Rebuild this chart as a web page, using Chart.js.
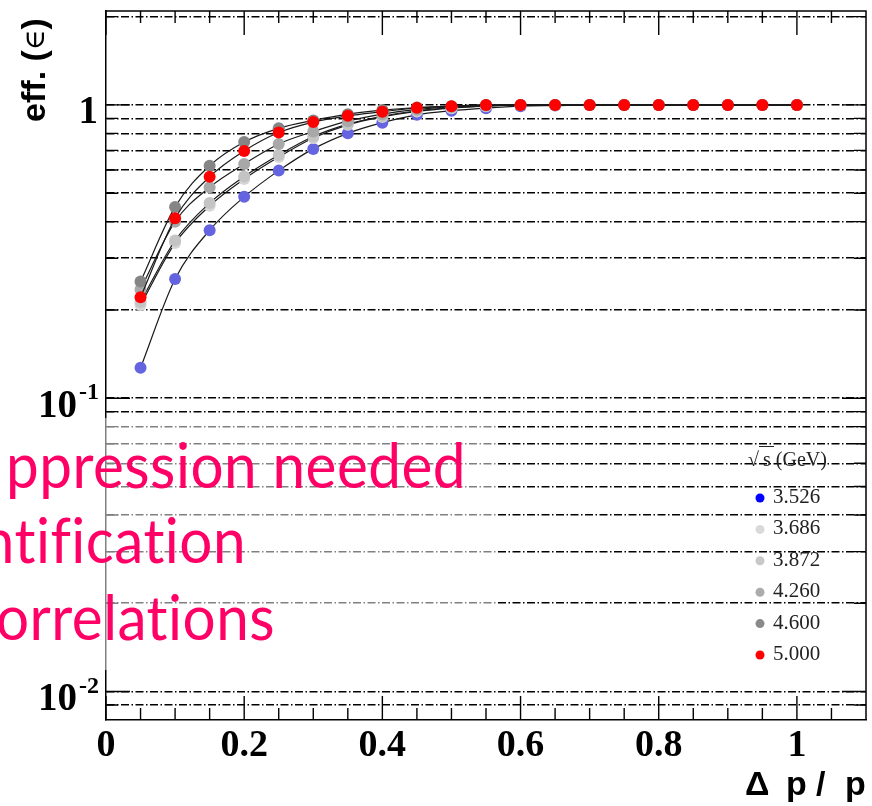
<!DOCTYPE html>
<html>
<head>
<meta charset="utf-8">
<script src="https://cdn.jsdelivr.net/npm/chart.js@4.4.1/dist/chart.umd.min.js"></script>
<style>
body { margin: 0; background: #fff; }
</style>
</head>
<body>
<canvas id="effChart" width="872" height="806"></canvas>
<script>
// delta p / p values of every point
const dpOverP = [0.05, 0.1, 0.15, 0.2, 0.25, 0.3, 0.35, 0.4, 0.45, 0.5,
                 0.55, 0.6, 0.65, 0.7, 0.75, 0.8, 0.85, 0.9, 0.95, 1.0];

// sqrt(s) in GeV
const seriesLabels = ['3.526', '3.686', '3.872', '4.260', '4.600', '5.000'];

const eff3526 = [0.127, 0.255, 0.374, 0.486, 0.597, 0.708, 0.80, 0.87, 0.925, 0.955,
                 0.975, 0.99, 0.995, 1, 1, 1, 1, 1, 1, 1];
const eff3686 = [0.208, 0.338, 0.453, 0.559, 0.664, 0.771, 0.855, 0.91, 0.95, 0.975,
                 0.99, 1, 1, 1, 1, 1, 1, 1, 1, 1];
const eff3872 = [0.213, 0.345, 0.463, 0.57, 0.675, 0.78, 0.86, 0.915, 0.955, 0.978,
                 0.992, 1, 1, 1, 1, 1, 1, 1, 1, 1];
const eff4260 = [0.235, 0.40, 0.524, 0.629, 0.736, 0.811, 0.88, 0.93, 0.965, 0.985,
                 0.995, 1, 1, 1, 1, 1, 1, 1, 1, 1];
const eff4600 = [0.25, 0.449, 0.62, 0.747, 0.832, 0.885, 0.93, 0.96, 0.98, 0.99,
                 1, 1, 1, 1, 1, 1, 1, 1, 1, 1];
const eff5000 = [0.221, 0.411, 0.569, 0.697, 0.805, 0.874, 0.918, 0.948, 0.977, 0.99,
                 1, 1, 1, 1, 1, 1, 1, 1, 1, 1];

const allSeries = [eff3526, eff3686, eff3872, eff4260, eff4600, eff5000];
const pointColors  = ['#6464e1', '#d6d6d6', '#c4c4c4', '#a8a8a8', '#858585', '#ff0000'];
const legendColors = ['#0000ff', '#d9d9d9', '#c8c8c8', '#acacac', '#8a8a8a', '#ff0000'];

// axis ticks
const xTickVals = [0, 0.2, 0.4, 0.6, 0.8, 1.0];
const xTickLabels = ['0', '0.2', '0.4', '0.6', '0.8', '1'];
const xMinorTicks = [0.05, 0.1, 0.15, 0.25, 0.3, 0.35, 0.45, 0.5, 0.55, 0.65, 0.7, 0.75,
                     0.85, 0.9, 0.95, 1.05];
const yGridVals = [0.009, 0.01, 0.02, 0.03, 0.04, 0.05, 0.06, 0.07, 0.08, 0.09,
                   0.1, 0.2, 0.3, 0.4, 0.5, 0.6, 0.7, 0.8, 0.9, 1, 2];
const yLabelVals = [1, 0.1, 0.01];
const yLabelParts = [['1', ''], ['10', '-1'], ['10', '-2']];

// text pasted over the plot on the slide
const slideLines = ['ppression needed', 'ntification', 'orrelations'];

const framePlugin = {
    id: 'frame',
    beforeDatasetsDraw(chart) {
        const {ctx, chartArea: a, scales: {x, y}} = chart;
        ctx.save();
        ctx.strokeStyle = '#000';
        ctx.lineWidth = 1.5;
        ctx.beginPath();
        ctx.moveTo(a.left, a.top);
        ctx.lineTo(a.right, a.top);
        ctx.lineTo(a.right, a.bottom);
        ctx.stroke();

        ctx.lineWidth = 1.4;
        ctx.beginPath();
        const xTick = (v, len) => {
            const px = x.getPixelForValue(v);
            ctx.moveTo(px, a.bottom); ctx.lineTo(px, a.bottom - len);
            ctx.moveTo(px, a.top); ctx.lineTo(px, a.top + len);
        };
        xTickVals.forEach(v => xTick(v, 24));
        xMinorTicks.forEach(v => xTick(v, 12));
        yGridVals.forEach(v => {
            const py = y.getPixelForValue(v);
            const len = yLabelVals.includes(v) ? 24 : 12;
            ctx.moveTo(a.left, py); ctx.lineTo(a.left + len, py);
            ctx.moveTo(a.right, py); ctx.lineTo(a.right - len, py);
        });
        ctx.stroke();
        ctx.restore();
    },
    afterDraw(chart) {
        const {ctx, scales: {y}} = chart;
        ctx.save();

        // y tick labels with exponents
        ctx.fillStyle = '#000';
        ctx.textBaseline = 'alphabetic';
        ctx.textAlign = 'right';
        yLabelVals.forEach((v, i) => {
            const py = y.getPixelForValue(v);
            const [base, sup] = yLabelParts[i];
            if (!sup) {
                ctx.font = 'bold 39px "Liberation Serif"';
                ctx.fillText(base, 98, py + 18);
            } else {
                ctx.font = 'bold 24px "Liberation Serif"';
                const w = ctx.measureText(sup).width;
                ctx.fillText(sup, 99, py + 1);
                ctx.font = 'bold 39px "Liberation Serif"';
                ctx.fillText(base, 97 - w, py + 18.5);
            }
        });

        // axis titles
        ctx.save();
        ctx.translate(45, 70);
        ctx.rotate(-Math.PI / 2);
        ctx.textAlign = 'left';
        ctx.font = 'bold 34px "Liberation Sans"';
        const effW = ctx.measureText('eff. (').width;
        ctx.font = '28px "DejaVu Serif"';
        const inW = ctx.measureText('\u2208').width;
        ctx.font = 'bold 34px "Liberation Sans"';
        const closeW = ctx.measureText(')').width;
        let tx = -(effW + inW + closeW) / 2;
        ctx.fillText('eff. (', tx, 0);
        ctx.font = '28px "DejaVu Serif"';
        ctx.fillText('\u2208', tx + effW, -1);
        ctx.font = 'bold 34px "Liberation Sans"';
        ctx.fillText(')', tx + effW + inW, 0);
        ctx.restore();

        ctx.font = 'bold 34px "Liberation Sans"';
        ctx.textAlign = 'left';
        [['\u0394', 745], ['p', 786], ['/', 816], ['p', 845]].forEach(([t, px]) => {
            ctx.fillText(t, px, 795);
        });

        // legend
        ctx.font = '20px "Liberation Serif"';
        ctx.fillStyle = '#222';
        ctx.fillText('\u221A', 748, 466);
        ctx.fillText('s (GeV)', 763, 466);
        ctx.strokeStyle = '#222';
        ctx.lineWidth = 1;
        ctx.beginPath();
        ctx.moveTo(759, 446.5); ctx.lineTo(774, 446.5);
        ctx.stroke();
        ctx.font = '21px "Liberation Serif"';
        seriesLabels.forEach((lab, i) => {
            const base = 503 + i * 31.4;
            ctx.fillStyle = legendColors[i];
            ctx.beginPath();
            ctx.arc(760, base - 5, 4.5, 0, Math.PI * 2);
            ctx.fill();
            ctx.fillStyle = '#222';
            ctx.fillText(lab, 773, base);
        });

        // semi transparent box behind the slide text
        ctx.fillStyle = 'rgba(255,255,255,0.5)';
        ctx.fillRect(0, 418, 497, 252);

        ctx.fillStyle = '#ff0066';
        ctx.font = '61px Lato';
        ctx.letterSpacing = '0.5px';
        ctx.textAlign = 'right';
        const sx = 460 / ctx.measureText(slideLines[0]).width;
        const rights = [466, 246, 275];
        const bases = [488, 563, 640];
        slideLines.forEach((t, i) => {
            ctx.save();
            ctx.translate(rights[i], bases[i]);
            ctx.scale(sx, 1);
            ctx.fillText(t, 0, 0);
            ctx.restore();
        });
        ctx.restore();
    }
};

const ctx = document.getElementById('effChart').getContext('2d');
const effChart = new Chart(ctx, {
    type: 'line',
    data: {
        datasets: allSeries.map((vals, i) => ({
            label: seriesLabels[i],
            data: dpOverP.map((x, j) => ({x: x, y: vals[j]})),
            borderColor: '#1a1a1a',
            borderWidth: 1.2,
            cubicInterpolationMode: 'monotone',
            pointRadius: 6,
            pointBackgroundColor: pointColors[i],
            pointBorderColor: pointColors[i],
            pointBorderWidth: 0,
            order: 5 - i
        }))
    },
    options: {
        responsive: false,
        animation: false,
        devicePixelRatio: 1,
        layout: { padding: { top: 11, right: 3, left: 0, bottom: 0 } },
        plugins: {
            legend: { display: false },
            tooltip: { enabled: false }
        },
        scales: {
            x: {
                type: 'linear',
                min: 0,
                max: 1.1,
                afterFit: s => { s.height = 86; },
                afterBuildTicks: s => { s.ticks = xTickVals.map(v => ({value: v})); },
                ticks: {
                    callback: v => xTickLabels[xTickVals.indexOf(v)],
                    font: { family: 'Liberation Serif', size: 38, weight: 'bold' },
                    color: '#000',
                    padding: 3,
                    maxRotation: 0,
                    autoSkip: false
                },
                grid: { display: false, drawTicks: false },
                border: { display: true, color: '#000', width: 1.5 }
            },
            y: {
                type: 'logarithmic',
                min: 0.008,
                max: 2.09,
                afterFit: s => { s.width = 106; },
                afterBuildTicks: s => { s.ticks = yGridVals.map(v => ({value: v})); },
                ticks: { display: false },
                grid: { color: '#000', lineWidth: 1.6, drawTicks: false },
                border: { display: true, color: '#000', width: 1.5, dash: [8, 2.5, 1.5, 2.5] }
            }
        }
    },
    plugins: [framePlugin]
});
</script>
</body>
</html>
